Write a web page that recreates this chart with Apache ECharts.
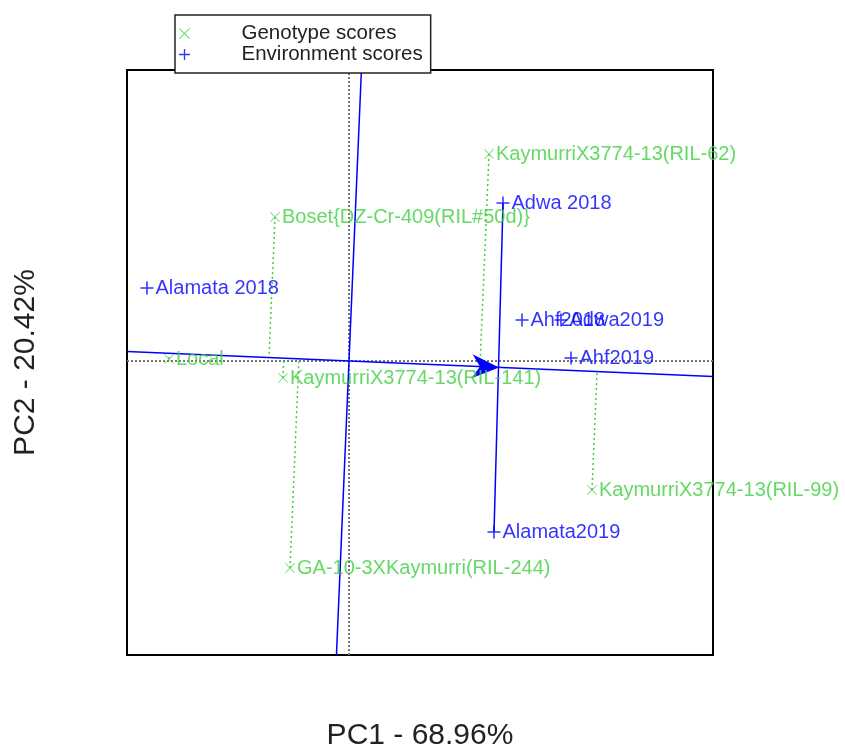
<!DOCTYPE html>
<html>
<head>
<meta charset="utf-8">
<script src="https://cdn.jsdelivr.net/npm/echarts@6/dist/echarts.min.js"></script>
<style>html,body{margin:0;padding:0;background:#fff}#c{width:845px;height:747px}</style>
</head>
<body>
<div id="c"></div>
<script>
// ---- data (PC scores) ----
const xRange = [-2.22, 3.64];
const yRange = [-2.94, 2.91];

const genoNames = ['KaymurriX3774-13(RIL-62)', 'Boset{DZ-Cr-409(RIL#50d)}', 'Local',
  'KaymurriX3774-13(RIL-141)', 'GA-10-3XKaymurri(RIL-244)', 'KaymurriX3774-13(RIL-99)'];
const genoX = [1.40, -0.74, -1.80, -0.66, -0.59, 2.43];
const genoY = [2.07, 1.44, 0.02, -0.17, -2.07, -1.29];

const envNames = ['Adwa 2018', 'Alamata 2018', 'Ahf2018', 'Adwa2019', 'Ahf2019', 'Alamata2019'];
const envX = [1.54, -2.02, 1.73, 2.12, 2.22, 1.45];
const envY = [1.58, 0.73, 0.41, 0.41, 0.03, -1.71];

const avgEnv = [1.50, -0.064];

const xTitle = 'PC1 - 68.96%';
const yTitle = 'PC2 - 20.42%';
const legendNames = ['Genotype scores', 'Environment scores'];

// ---- derived geometry ----
const GREEN = '#3fd03f';
const BLUE = '#0000ff';
const norm = Math.hypot(avgEnv[0], avgEnv[1]);
const u = [avgEnv[0] / norm, avgEnv[1] / norm];
const v = [-u[1], u[0]];
const aeaLine = [[xRange[0], xRange[0] * u[1] / u[0]], [xRange[1], xRange[1] * u[1] / u[0]]];
const atcLine = [[yRange[1] * v[0] / v[1], yRange[1]], [yRange[0] * v[0] / v[1], yRange[0]]];

let iMax = 0, iMin = 0;
envY.forEach((y, i) => { if (y > envY[iMax]) iMax = i; if (y < envY[iMin]) iMin = i; });
const envPerp = [[envX[iMax], envY[iMax]], [envX[iMin], envY[iMin]]];

const projSeries = genoX.map((x, i) => {
  const y = genoY[i];
  const s = x * u[0] + y * u[1];
  return {
    type: 'line', silent: true, symbol: 'none', z: 2, animation: false,
    lineStyle: { color: GREEN, width: 1.5, type: [2, 3] },
    data: [[x, y], [s * u[0], s * u[1]]]
  };
});

const plusPath = 'path://M4.4,0H5.6V4.4H10V5.6H5.6V10H4.4V5.6H0V4.4H4.4Z';
const crossPath = 'path://M0.6,0L5,4.4L9.4,0L10,0.6L5.6,5L10,9.4L9.4,10L5,5.6L0.6,10L0,9.4L4.4,5L0,0.6Z';
const font = 'Liberation Sans, Arial, sans-serif';

const chart = echarts.init(document.getElementById('c'), null, { renderer: 'canvas' });
chart.setOption({
  animation: false,
  backgroundColor: '#fff',
  textStyle: { fontFamily: font },
  grid: { left: 127, top: 70, width: 586, height: 585, containLabel: false, outerBoundsMode: 'none',
    show: true, borderColor: '#000', borderWidth: 2, backgroundColor: 'transparent' },
  legend: {
    data: legendNames,
    orient: 'vertical', left: 175, top: 15,
    borderColor: '#222', borderWidth: 1.5, backgroundColor: '#fff',
    padding: [8, 8, 8, 4], itemGap: 0, itemWidth: 14, itemHeight: 11,
    formatter: n => '{p|}' + n,
    textStyle: { fontSize: 20.5, color: '#222', lineHeight: 20, fontFamily: font, rich: { p: { width: 45 } } }
  },
  xAxis: {
    type: 'value', min: xRange[0], max: xRange[1],
    axisLine: { show: false }, axisTick: { show: false }, axisLabel: { show: false }, splitLine: { show: false },
    name: xTitle, nameLocation: 'middle', nameGap: 66,
    nameTextStyle: { fontSize: 30, color: '#222', fontFamily: font }
  },
  yAxis: {
    type: 'value', min: yRange[0], max: yRange[1],
    axisLine: { show: false }, axisTick: { show: false }, axisLabel: { show: false }, splitLine: { show: false },
    name: yTitle, nameLocation: 'middle', nameGap: 86,
    nameTextStyle: { fontSize: 30, color: '#222', fontFamily: font }
  },
  series: [
    { type: 'line', silent: true, symbol: 'none', z: 1, lineStyle: { color: '#777', width: 2, type: [2, 2] },
      data: [[xRange[0], 0], [xRange[1], 0]] },
    { type: 'line', silent: true, symbol: 'none', z: 1, lineStyle: { color: '#777', width: 2, type: [2, 2] },
      data: [[0, yRange[0]], [0, yRange[1]]] },
    ...projSeries,
    { type: 'line', silent: true, symbol: 'none', z: 3, lineStyle: { color: BLUE, width: 1.5 }, data: aeaLine },
    { type: 'line', silent: true, symbol: 'none', z: 3, lineStyle: { color: BLUE, width: 1.5 }, data: atcLine },
    { type: 'line', silent: true, symbol: 'none', z: 3, lineStyle: { color: BLUE, width: 1.5 }, data: envPerp },
    { type: 'custom', silent: true, z: 4, data: [avgEnv],
      renderItem: (params, api) => {
        const t = api.coord([api.value(0), api.value(1)]);
        const o = api.coord([0, 0]);
        const L = Math.hypot(t[0] - o[0], t[1] - o[1]);
        const d = [(t[0] - o[0]) / L, (t[1] - o[1]) / L];
        const n = [-d[1], d[0]];
        const pts = [
          t,
          [t[0] - 27 * d[0] + 12 * n[0], t[1] - 27 * d[1] + 12 * n[1]],
          [t[0] - 19 * d[0], t[1] - 19 * d[1]],
          [t[0] - 27 * d[0] - 12 * n[0], t[1] - 27 * d[1] - 12 * n[1]]
        ];
        return { type: 'polygon', shape: { points: pts }, style: { fill: BLUE } };
      } },
    { name: legendNames[0], type: 'scatter', z: 5, symbol: crossPath, symbolSize: 10,
      itemStyle: { color: GREEN },
      label: { show: true, position: 'right', distance: 2, formatter: '{b}', fontSize: 20, color: GREEN, fontFamily: font },
      data: genoNames.map((n, i) => ({ name: n, value: [genoX[i], genoY[i]] })) },
    { name: legendNames[1], type: 'scatter', z: 5, symbol: plusPath, symbolSize: 13,
      itemStyle: { color: BLUE },
      label: { show: true, position: 'right', distance: 2, formatter: '{b}', fontSize: 20, color: BLUE, fontFamily: font },
      data: envNames.map((n, i) => ({ name: n, value: [envX[i], envY[i]] })) }
  ]
});
</script>
</body>
</html>
